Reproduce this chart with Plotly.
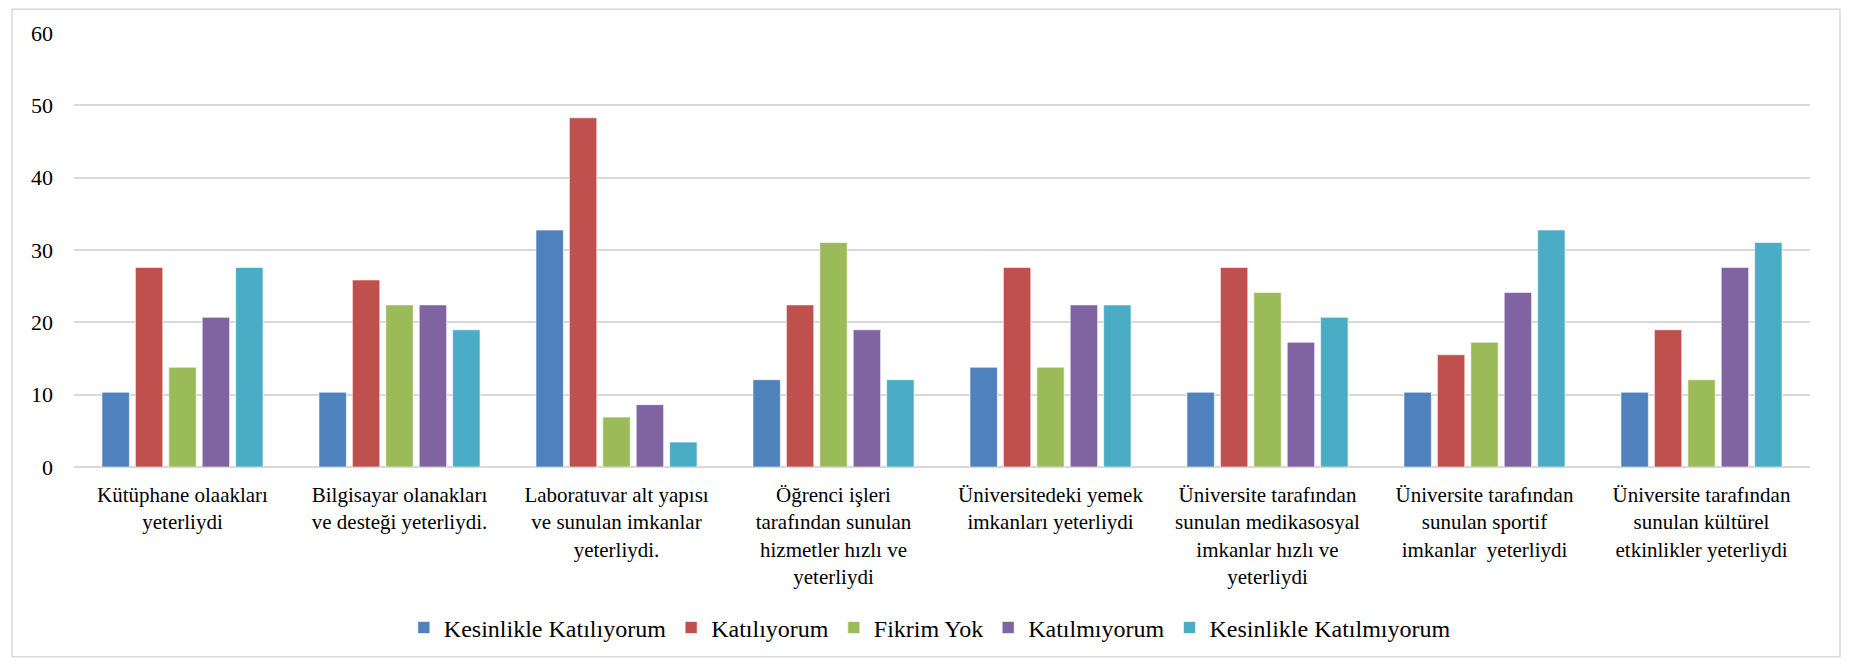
import plotly.graph_objects as go

# categories (line breaks as in the source chart)
categories = [
    "Kütüphane olaakları<br>yeterliydi",
    "Bilgisayar olanakları<br>ve desteği yeterliydi.",
    "Laboratuvar alt yapısı<br>ve sunulan imkanlar<br>yeterliydi.",
    "Öğrenci işleri<br>tarafından sunulan<br>hizmetler hızlı ve<br>yeterliydi",
    "Üniversitedeki yemek<br>imkanları yeterliydi",
    "Üniversite tarafından<br>sunulan medikasosyal<br>imkanlar hızlı ve<br>yeterliydi",
    "Üniversite tarafından<br>sunulan sportif<br>imkanlar  yeterliydi",
    "Üniversite tarafından<br>sunulan kültürel<br>etkinlikler yeterliydi",
]

kesinlikle_katiliyorum = [10.34, 10.34, 32.76, 12.07, 13.79, 10.34, 10.34, 10.34]
katiliyorum = [27.59, 25.86, 48.28, 22.41, 27.59, 27.59, 15.52, 18.97]
fikrim_yok = [13.79, 22.41, 6.90, 31.03, 13.79, 24.14, 17.24, 12.07]
katilmiyorum = [20.69, 22.41, 8.62, 18.97, 22.41, 17.24, 24.14, 27.59]
kesinlikle_katilmiyorum = [27.59, 18.97, 3.45, 12.07, 22.41, 20.69, 32.76, 31.03]

series = [
    ("Kesinlikle Katılıyorum", kesinlikle_katiliyorum, "#4F81BD"),
    ("Katılıyorum", katiliyorum, "#C0504D"),
    ("Fikrim Yok", fikrim_yok, "#9BBB59"),
    ("Katılmıyorum", katilmiyorum, "#8064A2"),
    ("Kesinlikle Katılmıyorum", kesinlikle_katilmiyorum, "#4BACC6"),
]

serif = "Times New Roman, Liberation Serif, DejaVu Serif, serif"

fig = go.Figure()
for name, values, color in series:
    fig.add_trace(go.Bar(
        x=categories,
        y=values,
        name=name,
        marker=dict(color=color, line=dict(color="rgba(255,255,255,0.6)", width=1)),
    ))

# the page body adds an 8px margin, so the figure is a bit smaller than the window
W, H = 1833, 654
left, right, top, bottom = 66, 31, 25, 192
pw = W - left - right
ph = H - top - bottom

fig.update_layout(
    width=W,
    height=H,
    margin=dict(l=left, r=right, t=top, b=bottom),
    paper_bgcolor="white",
    plot_bgcolor="white",
    barmode="group",
    bargap=0.23,
    bargroupgap=0.18,
    font=dict(family=serif, size=21, color="#000000"),
    showlegend=True,
    legend=dict(
        orientation="h",
        x=0.493,
        xanchor="center",
        y=(462 - 624) / ph,
        yanchor="middle",
        font=dict(family=serif, size=24, color="#000000"),
        itemwidth=30,
    ),
    xaxis=dict(
        showgrid=False,
        showline=False,
        ticks="",
        tickangle=0,
        automargin=False,
        ticklabelstandoff=13,
        tickfont=dict(family=serif, size=21, color="#000000"),
    ),
    yaxis=dict(
        range=[0, 60],
        dtick=10,
        showgrid=True,
        gridcolor="#D9D9D9",
        gridwidth=1.5,
        zeroline=True,
        zerolinecolor="#D9D9D9",
        zerolinewidth=1.5,
        showline=False,
        ticks="",
        automargin=False,
        ticklabelstandoff=20,
        tickfont=dict(family=serif, size=22, color="#000000"),
    ),
    shapes=[
        dict(
            type="rect",
            xref="paper",
            yref="paper",
            x0=(4 - left) / pw,
            x1=(1832 - left) / pw,
            y0=(462 - 653) / ph,
            y1=(462 - 1) / ph,
            line=dict(color="#D9D9D9", width=1.5),
            fillcolor="rgba(0,0,0,0)",
            layer="below",
        )
    ],
)

fig.write_html("out.html")
